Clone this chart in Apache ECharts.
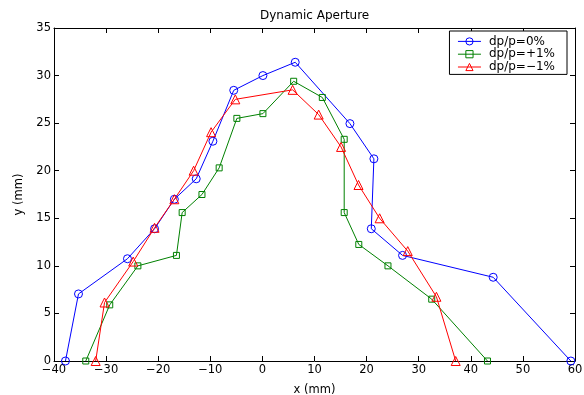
<!DOCTYPE html>
<html lang="en">
<head>
	<meta charset="UTF-8">
	<script src="https://cdn.jsdelivr.net/npm/echarts@6/dist/echarts.min.js"></script>
	<title>Dynamic Aperture</title>
	<style>
		html, body { margin: 0; padding: 0; background: #fff; }
	</style>
</head>
<body>
	<div id="main" style="width: 584px;height:395px;"></div>

	<script>
		// dp/p = 0%
		var x0 = [-37.8, -35.3, -25.9, -20.7, -16.9, -12.7, -9.5, -5.5, 0.1, 6.3, 16.8, 21.4, 20.9, 26.9, 44.3, 59.2];
		var y0 = [0, 7.05, 10.75, 13.9, 17.0, 19.15, 23.1, 28.45, 30.0, 31.4, 24.95, 21.25, 13.9, 11.1, 8.8, 0];
		// dp/p = +1%
		var xp = [-33.9, -29.3, -23.9, -16.5, -15.4, -11.6, -8.3, -4.9, 0.1, 6.0, 11.5, 15.7, 15.7, 18.5, 24.1, 32.5, 43.2];
		var yp = [0, 5.9, 10.0, 11.1, 15.6, 17.5, 20.3, 25.5, 26.0, 29.4, 27.7, 23.3, 15.6, 12.25, 10.0, 6.5, 0];
		// dp/p = -1%
		var xm = [-32.0, -30.3, -24.8, -20.7, -16.9, -13.2, -9.85, -5.2, 5.8, 10.8, 15.1, 18.45, 22.5, 27.9, 33.4, 37.1];
		var ym = [0, 6.15, 10.45, 14.0, 17.0, 20.0, 24.05, 27.5, 28.5, 25.9, 22.5, 18.5, 15.0, 11.55, 6.75, 0];

		var names = ['dp/p=0%', 'dp/p=+1%', 'dp/p=\u22121%'];

		function pairs(xs, ys) {
			return xs.map(function (x, i) { return [x, ys[i]]; });
		}

		var font = 'DejaVu Sans, sans-serif';
		var axisBase = {
			type: 'value',
			axisLine: { show: true, onZero: false, lineStyle: { color: '#000', width: 1 } },
			axisTick: { show: true, inside: true, length: 5, lineStyle: { color: '#000' } },
			splitLine: { show: false }
		};
		// matlab style minus sign on tick labels
		var tickLabel = {
			fontFamily: font, fontSize: 11.5, color: '#000', margin: 3,
			formatter: function (v) { return String(v).replace('-', '\u2212'); }
		};

		function line(name, data, color, symbol, size) {
			return {
				name: name,
				type: 'line',
				data: data,
				symbol: symbol,
				symbolSize: size,
				showAllSymbol: true,
				lineStyle: { color: color, width: 1 },
				itemStyle: { color: 'rgba(0,0,0,0)', borderColor: color, borderWidth: 1 },
				emphasis: { disabled: true },
				animation: false
			};
		}

		var mainChart = echarts.init(document.getElementById('main'));

		mainChart.setOption({
			backgroundColor: '#fff',
			title: {
				text: 'Dynamic Aperture',
				left: 255, top: 5,
				textStyle: { fontFamily: font, fontSize: 12, fontWeight: 'normal', color: '#000' }
			},
			legend: {
				right: 17, top: 31,
				orient: 'vertical',
				data: names,
				itemWidth: 23, itemHeight: 9, itemGap: 0,
				padding: [4, 12, 1, 8],
				borderColor: '#000', borderWidth: 1, borderRadius: 0,
				backgroundColor: '#fff',
				lineStyle: { width: 1 },
				itemStyle: { borderWidth: 1 },
				textStyle: { fontFamily: font, fontSize: 12, lineHeight: 12.8, color: '#000', padding: [0, 0, 0, 3] }
			},
			grid: { left: 54, right: 9, top: 28, bottom: 34, outerBoundsMode: 'none' },
			xAxis: [
				Object.assign({}, axisBase, {
					min: -40, max: 60, interval: 10,
					name: 'x (mm)', nameLocation: 'middle', nameGap: 23,
					nameTextStyle: { fontFamily: font, fontSize: 11.5, color: '#000' },
					axisLabel: tickLabel
				}),
				Object.assign({}, axisBase, {
					position: 'top', min: -40, max: 60, interval: 10,
					axisLabel: { show: false }
				})
			],
			yAxis: [
				Object.assign({}, axisBase, {
					min: 0, max: 35, interval: 5,
					name: 'y (mm)', nameLocation: 'middle', nameGap: 29,
					nameTextStyle: { fontFamily: font, fontSize: 11.5, color: '#000' },
					axisLabel: tickLabel
				}),
				Object.assign({}, axisBase, {
					position: 'right', min: 0, max: 35, interval: 5,
					axisLabel: { show: false }
				})
			],
			series: [
				line(names[0], pairs(x0, y0), '#0000ff', 'circle', 8),
				line(names[1], pairs(xp, yp), '#008000', 'rect', 6),
				line(names[2], pairs(xm, ym), '#ff0000', 'triangle', 9)
			]
		});
	</script>
</body>
</html>
